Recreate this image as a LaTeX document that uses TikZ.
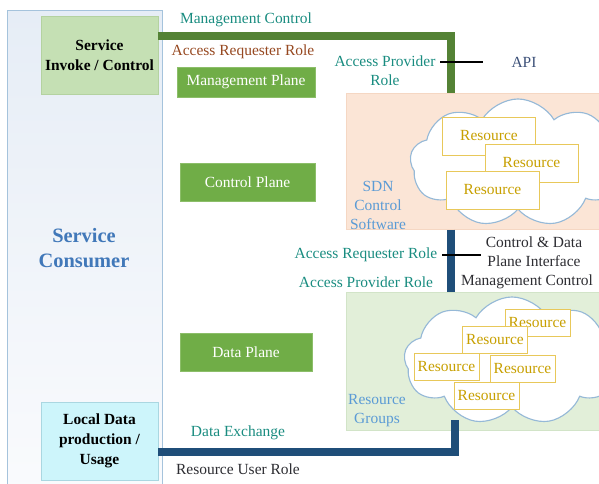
\documentclass[tikz,border=0pt]{standalone}
\usepackage{fontspec}
\setmainfont{Liberation Serif}
\usetikzlibrary{shapes,shapes.symbols,positioning}

\definecolor{tealtext}{RGB}{25,140,128}
\definecolor{browntext}{RGB}{150,72,32}
\definecolor{darktext}{RGB}{45,45,50}
\definecolor{apitext}{RGB}{60,80,120}
\definecolor{skytext}{RGB}{91,155,213}
\definecolor{consumertext}{RGB}{65,120,185}
\definecolor{planegreen}{RGB}{112,173,71}
\definecolor{planeedge}{RGB}{140,190,105}
\definecolor{invokefill}{RGB}{197,224,180}
\definecolor{invokeedge}{RGB}{180,210,160}
\definecolor{localfill}{RGB}{205,245,251}
\definecolor{localedge}{RGB}{170,215,225}
\definecolor{sdnfill}{RGB}{251,229,214}
\definecolor{sdnedge}{RGB}{245,215,195}
\definecolor{dpfill}{RGB}{226,239,217}
\definecolor{dpedge}{RGB}{210,228,200}
\definecolor{consumertop}{RGB}{230,237,246}
\definecolor{consumerbot}{RGB}{250,251,253}
\definecolor{consumeredge}{RGB}{165,195,220}
\definecolor{resedge}{RGB}{232,200,90}
\definecolor{restext}{RGB}{200,160,0}
\definecolor{cloudedge}{RGB}{150,185,215}
\definecolor{linegreen}{RGB}{84,130,53}
\definecolor{linenavy}{RGB}{31,78,121}

\begin{document}
\begin{tikzpicture}[x=0.025cm, y=-0.025cm, node distance=0.2cm, font=\fontsize{11}{13.5}\selectfont]
    % Define block styles
    \tikzstyle{plane} = [rectangle, draw=planeedge, fill=planegreen, text=white, text centered, inner sep=0pt]
    \tikzstyle{userbox} = [rectangle, text centered, align=center, inner sep=0pt, minimum width=2.93cm, minimum height=1.95cm, font=\fontsize{11}{14}\selectfont\bfseries]
    \tikzstyle{panel} = [rectangle, anchor=north west, inner sep=0pt, minimum width=6.48cm]
    \tikzstyle{res} = [rectangle, draw=resedge, fill=white, text=restext, inner sep=0pt]
    \tikzstyle{bigres} = [res, minimum width=2.33cm, minimum height=0.95cm]
    \tikzstyle{smallres} = [res, minimum width=1.63cm, minimum height=0.68cm]
    \tikzstyle{puffs} = [cloud, cloud puffs=9, cloud puff arc=120, cloud ignores aspect, draw=cloudedge, fill=white, line width=0.8pt, minimum width=5.4cm, minimum height=3.2cm]
    \tikzstyle{lbl} = [align=center, text=tealtext]
    \tikzstyle{mgmtline} = [line width=5.3pt, draw=linegreen]
    \tikzstyle{dataline} = [line width=5pt, draw=linenavy]
    \tikzstyle{linkline} = [line width=1.8pt, draw=black]

    \useasboundingbox (0,0) rectangle (599,484);

    % Consumer side
    \node (consumer) [rectangle, anchor=north west, inner sep=0pt, minimum width=3.88cm, minimum height=12.2cm, draw=consumeredge, top color=consumertop, bottom color=consumerbot] at (7,10) {};
    \node (invoke) [userbox, fill=invokefill, draw=invokeedge] at (99.5,55) {Service\\Invoke / Control};
    \node (local) [userbox, fill=localfill, draw=localedge] at (99.5,441) {Local Data\\production /\\Usage};
    \node (conslabel) [text=consumertext, align=center, font=\fontsize{14.5}{18}\selectfont\bfseries] at (84,248) {Service\\Consumer};

    % Planes
    \node (mplane) [plane, minimum width=3.45cm, minimum height=0.75cm] at (246,82) {Management Plane};
    \node (cplane) [plane, minimum width=3.38cm, minimum height=0.95cm] at (247.5,182) {Control Plane};
    \node (dplane) [plane, minimum width=3.3cm, minimum height=0.95cm] at (246,352) {Data Plane};

    % SDN control software
    \node (sdn) [panel, minimum height=3.4cm, fill=sdnfill, draw=sdnedge] at (346,93) {};
    \node (sdncloud) [puffs] at (518,163) {};
    \node (r1) [bigres] at (489,136) {Resource};
    \node (r2) [bigres] at (531.5,163) {Resource};
    \node (r3) [bigres] at (492.5,190) {Resource};
    \node (sdnlabel) [align=center, text=skytext] at (378,205) {SDN\\Control\\Software};

    % Resource groups
    \node (dp) [panel, minimum height=3.45cm, fill=dpfill, draw=dpedge] at (346,292) {};
    \node (dpcloud) [puffs] at (512,361) {};
    \node (ra) [smallres] at (537.5,322.5) {Resource};
    \node (rb) [smallres] at (495,340) {Resource};
    \node (rc) [smallres] at (446.5,367) {Resource};
    \node (rd) [smallres] at (522.5,369) {Resource};
    \node (re) [smallres] at (486.5,396) {Resource};
    \node (dplabel) [align=center, text=skytext] at (377,411) {Resource\\Groups};

    % Labels
    \node (mctl) [lbl] at (246,20) {Management Control};
    \node (areq) [lbl, text=browntext] at (243,52) {Access Requester Role};
    \node (aprov) [lbl] at (385,71) {Access Provider\\Role};
    \node (api) [text=apitext] at (524,62) {API};
    \node (areq2) [lbl] at (366,255) {Access Requester Role};
    \node (aprov2) [lbl] at (366,282) {Access Provider Role};
    \node (cdpi) [align=center, text=darktext] at (534,252) {Control \& Data\\Plane Interface};
    \node (mctl2) [text=darktext] at (527,282) {Management Control};
    \node (dex) [lbl] at (238,433) {Data Exchange};
    \node (ruser) [text=darktext] at (238,469) {Resource User Role};

    % Connectors
    \coordinate (mcturn) at (451,36);
    \coordinate (dxturn) at (455,452);
    \coordinate (dxend) at (455,420);
    \coordinate (apiend) at (483,62);
    \coordinate (cdpiend) at (481,255);
    \draw [mgmtline] (invoke.east |- mcturn) -- (mcturn) -- (sdn.north -| mcturn);
    \draw [dataline] (sdn.south -| mcturn) -- (dp.north -| mcturn);
    \draw [dataline] (local.east |- dxturn) -- (dxturn) -- (dxend);
    \draw [linkline] (aprov.east |- apiend) -- (apiend);
    \draw [linkline] (areq2.east |- cdpiend) -- (cdpiend);
\end{tikzpicture}
\end{document}
